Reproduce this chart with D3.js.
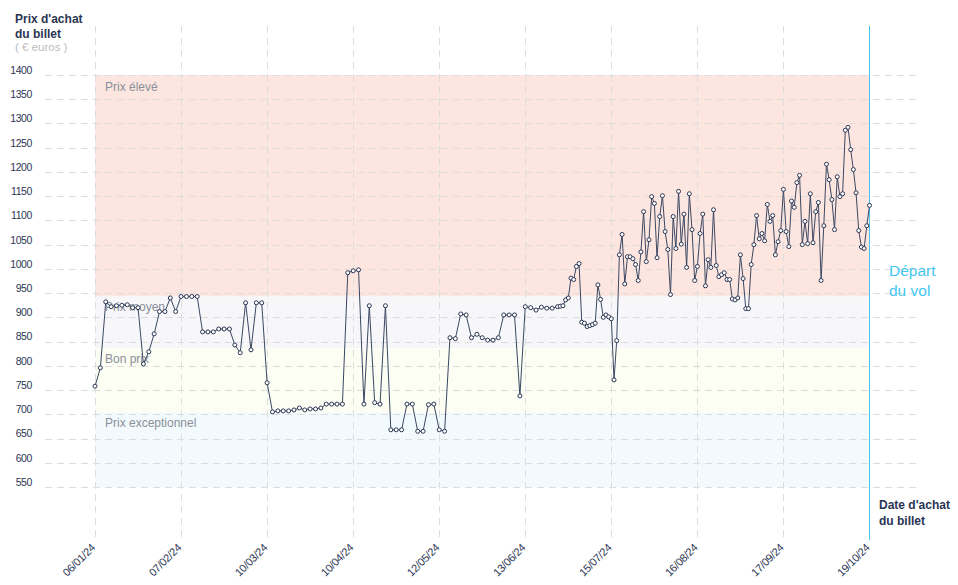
<!DOCTYPE html>
<html><head><meta charset="utf-8">
<script src="https://cdn.jsdelivr.net/npm/d3@7"></script>
<style>
body{margin:0;background:#fff}
svg{display:block;font-family:"Liberation Sans",Arial,Helvetica,sans-serif}
</style></head>
<body><svg id="chart" width="958" height="585"></svg>
<script>
// ---- data ----
// purchase day (days after 06/01/24) for each observed price
const purchaseDays = [
  0,2,4,6,8,10,12,14,16,18,20,22,24,26,28,30,32,34,36,38,
  40,42,44,46,48,50,52,54,56,58,60,62,64,66,68,70,72,74,76,78,
  80,82,84,86,88,90,92,94,96,98,100,102,104,106,108,110,112,114,116,118,
  120,122,124,126,128,130,132,134,136,138,140,142,144,146,148,150,152,154,156,158,
  160,162,164,166,168,170,172,
  173,174,175,176,177,178,179,180,181,182,
  183,184,185,186,187,188,189,190,191,192,
  193,194,195,196,197,198,199,200,201,202,
  203,204,205,206,207,208,209,210,211,212,
  213,214,215,216,217,218,219,220,221,222,
  223,224,225,226,227,228,229,230,231,232,
  233,234,235,236,237,238,239,240,241,242,
  243,244,245,246,247,248,249,250,251,252,
  253,254,255,256,257,258,259,260,261,262,
  263,264,265,266,267,268,269,270,271,272,
  273,274,275,276,277,278,279,280,281,282,
  283,284,285,286,287,288
];
const ticketPrices = [
  758,796,932,922,924,925,926,920,920,804,
  829,866,912,912,940,912,943,943,943,943,
  870,870,870,876,876,876,843,827,930,833,
  930,930,765,705,707,707,707,709,713,709,
  711,711,713,721,721,721,721,992,996,998,
  721,924,724,721,924,668,668,668,721,721,
  665,665,720,721,668,665,858,856,907,905,
  858,865,858,853,853,858,905,905,905,738,
  922,920,915,921,919,919,922,
  923,924,936,940,981,978,1005,1011,890,888,
  881,883,885,888,967,937,900,905,901,897,
  771,852,1029,1071,969,1025,1025,1021,1009,976,
  1035,1118,1015,1060,1149,1135,1023,1108,1151,1077,
  1040,947,1108,1042,1160,1051,1113,1003,1155,1081,
  976,1005,1073,1113,965,1019,1003,1122,1007,984,
  988,992,978,978,938,936,940,1029,980,918,
  918,1009,1050,1110,1062,1073,1058,1133,1098,1110,
  1029,1056,1079,1164,1077,1046,1140,1127,1178,1193,
  1050,1098,1052,1155,1054,1118,1137,976,1089,1216,
  1184,1143,1081,1190,1149,1155,1286,1292,1246,1205,
  1157,1079,1045,1042,1089,1131
];
const tickDays = [0,32,64,96,128,160,192,224,256,288];
const tickLabels = ["06/01/24","07/02/24","10/03/24","10/04/24","12/05/24","13/06/24","15/07/24","16/08/24","17/09/24","19/10/24"];
const yTickValues = [550,600,650,700,750,800,850,900,950,1000,1050,1100,1150,1200,1250,1300,1350,1400];
const bandNames = ["Prix élevé","Prix moyen","Bon prix","Prix exceptionnel"];
const bandUpper = [1400,943,836,703];
const bandLower = [943,836,703,550];

// ---- styles ----
const bandColors = ["#fde6e0","#f7f7f9","#fcfdf3","#f2fafd"];
const ink = "#2b3553";
const cyan = "#45c6ef";

const svg = d3.select("#chart");
const x = d3.scaleLinear().domain([0,288]).range([95,869.5]);
const y = d3.scaleLinear().domain([550,1400]).range([487,75]);

// bands
svg.append("g").selectAll("rect").data(bandNames).join("rect")
  .attr("x", x(0)).attr("width", x(288)-x(0))
  .attr("y", (d,i)=>y(bandUpper[i]))
  .attr("height", (d,i)=>y(bandLower[i])-y(bandUpper[i]))
  .attr("fill", (d,i)=>bandColors[i]);

// horizontal grid
svg.append("g").selectAll("line").data(yTickValues).join("line")
  .attr("x1",45).attr("x2",920)
  .attr("y1",d=>Math.round(y(d))+0.5).attr("y2",d=>Math.round(y(d))+0.5)
  .attr("stroke","#dddddd").attr("stroke-dasharray","7,5");

// vertical grid
svg.append("g").selectAll("line").data(tickDays.slice(0,-1)).join("line")
  .attr("x1",d=>Math.round(x(d))+0.5).attr("x2",d=>Math.round(x(d))+0.5)
  .attr("y1",26).attr("y2",537)
  .attr("stroke","#dddddd").attr("stroke-dasharray","7,5");

// band labels
svg.append("g").selectAll("text").data(bandNames).join("text")
  .attr("x",105).attr("y",(d,i)=>y(bandUpper[i])+(i===0?12:10))
  .attr("dy","0.35em")
  .attr("font-size",12).attr("fill","#8a8f99").text(d=>d);

// y axis
const yAxis = svg.append("g").attr("transform","translate(34,0)")
  .call(d3.axisLeft(y).tickValues(yTickValues).tickFormat(d3.format("d")).tickSize(0).tickPadding(2));
yAxis.select(".domain").remove();
yAxis.selectAll("text").attr("font-size",10.5).attr("fill",ink)
  .attr("font-family","'Liberation Sans',Arial,sans-serif")
  .attr("letter-spacing","-0.4").attr("y",-5);

// x axis
const xAxis = svg.append("g").attr("transform","translate(0,543)")
  .call(d3.axisBottom(x).tickValues(tickDays).tickFormat((d,i)=>tickLabels[i]).tickSize(0).tickPadding(0));
xAxis.select(".domain").remove();
xAxis.selectAll("text").attr("font-size",11).attr("fill",ink)
  .attr("font-family","'Liberation Sans',Arial,sans-serif")
  .attr("letter-spacing","-0.3")
  .attr("text-anchor","end").attr("dy","0.7em").attr("y",0)
  .attr("transform","translate(-5,0) rotate(-45)");

// departure line
svg.append("line").attr("x1",869.5).attr("x2",869.5).attr("y1",26).attr("y2",540)
  .attr("stroke",cyan).attr("stroke-width",1);

// data
const pts = purchaseDays.map((d,i)=>({day:d, price:ticketPrices[i]}));
const line = d3.line().x(d=>x(d.day)).y(d=>y(d.price));
svg.append("path").datum(pts).attr("d",line)
  .attr("fill","none").attr("stroke","#3b4862").attr("stroke-width",1);
svg.append("g").selectAll("circle").data(pts).join("circle")
  .attr("cx",d=>x(d.day)).attr("cy",d=>y(d.price)).attr("r",2)
  .attr("fill","#fff").attr("stroke","#2b3553").attr("stroke-width",1);

// titles
const t1 = svg.append("text").attr("x",15).attr("y",22.5).attr("font-size",12).attr("font-weight","bold").attr("fill",ink);
t1.append("tspan").attr("x",15).text("Prix d'achat");
t1.append("tspan").attr("x",15).attr("dy",15.5).text("du billet");
svg.append("text").attr("x",15).attr("y",51).attr("font-size",11.5).attr("fill","#bdbdbd").text("( € euros )");

const t2 = svg.append("text").attr("x",879).attr("y",509).attr("font-size",12).attr("font-weight","bold").attr("fill",ink);
t2.append("tspan").attr("x",879).text("Date d'achat");
t2.append("tspan").attr("x",879).attr("dy",16).text("du billet");

const t3 = svg.append("text").attr("x",889).attr("y",275.5).attr("font-size",15.5).attr("fill",cyan);
t3.append("tspan").attr("x",889).text("Départ");
t3.append("tspan").attr("x",889).attr("dy",20.5).text("du vol");
</script></body></html>
